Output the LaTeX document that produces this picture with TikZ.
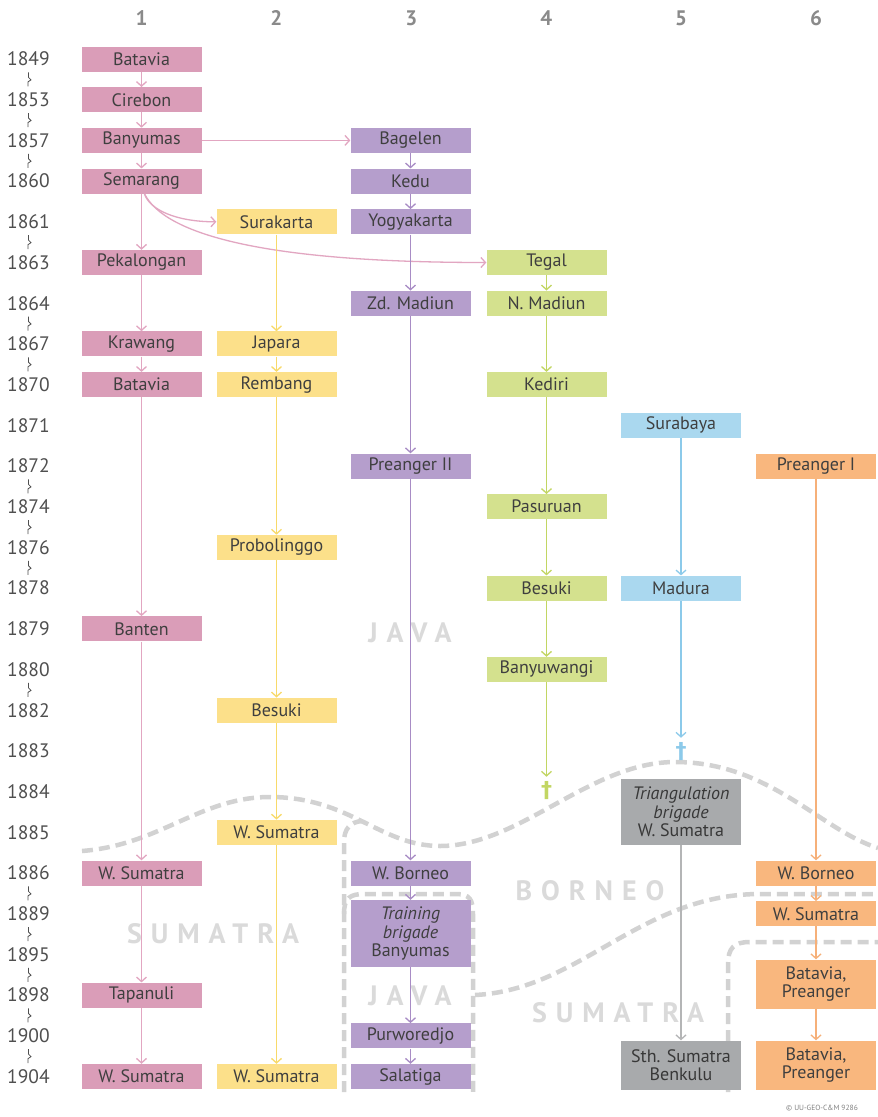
\documentclass[tikz,border=0pt]{standalone}
\usepackage{fontspec}
\setmainfont{PT Sans}
\newfontfamily\crossfont{DejaVu Sans}
\usetikzlibrary{arrows.meta}
\definecolor{pinkbox}{HTML}{DA9DB8}
\definecolor{pinkline}{HTML}{E2A6C1}
\definecolor{yelbox}{HTML}{FCE08A}
\definecolor{yelline}{HTML}{F8DA6A}
\definecolor{purbox}{HTML}{B59ECC}
\definecolor{purline}{HTML}{A88CC5}
\definecolor{grnbox}{HTML}{D4E18E}
\definecolor{grnline}{HTML}{C2D663}
\definecolor{blubox}{HTML}{AAD8EF}
\definecolor{bluline}{HTML}{8CCAEA}
\definecolor{orabox}{HTML}{F9B77E}
\definecolor{oraline}{HTML}{F6B079}
\definecolor{grybox}{HTML}{A8AAAC}
\definecolor{gryline}{HTML}{B4B5B6}
\definecolor{txtc}{HTML}{3F3F3F}
\definecolor{yearc}{HTML}{4F4F4F}
\definecolor{headc}{HTML}{8A8A8A}
\definecolor{dashc}{HTML}{D2D2D2}
\definecolor{regc}{HTML}{DADADA}
\tikzset{
  box/.style={minimum width=120pt, minimum height=25pt, inner sep=0pt, text=txtc,
    font=\fontsize{18}{19.5}\selectfont, align=center},
  tall/.style={box, minimum height=49pt},
  yearlbl/.style={text=yearc, font=\fontsize{19.5}{21}\selectfont, inner sep=0pt},
  headlbl/.style={text=headc, font=\fontsize{21}{24}\selectfont\bfseries, inner sep=0pt},
  arr/.style={-{Straight Barb[length=4.5pt,width=10pt,line width=1.3pt]}, line width=1.3pt},
  border/.style={draw=dashc, line width=4.5pt, dash pattern=on 11pt off 6pt},
  region/.style={text=regc, font=\fontsize{28}{30}\selectfont\bfseries\addfontfeature{LetterSpace=32}, inner sep=0pt},
  sq/.style={draw=yearc, line width=0.8pt},
  crossm/.style={font=\crossfont\bfseries\fontsize{22}{23}\selectfont, inner sep=0pt}
}
\begin{document}
\begin{tikzpicture}[x=1pt,y=-1pt]
\useasboundingbox (0,0) rectangle (878,1117);
\fill[white] (0,0) rectangle (878,1117);

% column headers
\foreach \c [count=\i from 0] in {1,2,3,4,5,6}
  \node[headlbl] (h\c) at ({141.5+134.9*\i},18) {\c};

% years
\foreach \yr [count=\i from 0] in {1849,1853,1857,1860,1861,1863,1864,1867,1870,1871,1872,1874,1876,1878,1879,1880,1882,1883,1884,1885,1886,1889,1895,1898,1900,1904}
  \node[yearlbl] (y\yr) at (28.5,{59+40.7*\i}) {\yr};

% squiggles between non-consecutive years
\foreach \k in {0,1,2,4,6,7,10,11,12,15,20,21,22,23,24}{
  \pgfmathsetmacro{\m}{59+40.7*(\k+0.5)}
  \draw[sq] (28.5,{\m-7}) -- (28.5,{\m-2}) -- (31,{\m+0.5}) -- (28,{\m+2.5}) -- (28,{\m+7});
}

% region labels
\node[region] (rjava1) at (410,633) {JAVA};
\node[region] (rborneo) at (590,891) {BORNEO};
\node[region] (rsum1) at (213,934) {SUMATRA};
\node[region] (rjava2) at (410,996) {JAVA};
\node[region] (rsum2) at (618,1013) {SUMATRA};

% dashed borders
\draw[border] (82,851) .. controls (160,845) and (200,797) .. (270,797)
  .. controls (350,797) and (380,846) .. (440,846)
  .. controls (520,846) and (590,762) .. (675,762)
  .. controls (770,762) and (820,830) .. (878,848);
\draw[border] (344,1092) -- (344,842) .. controls (344,829) and (350,822) .. (362,821);
\draw[border] (344,914) .. controls (344,898) and (350,894) .. (364,894) -- (456,894)
  .. controls (470,894) and (473,900) .. (473,914) -- (473,1092);
\draw[border] (475,995) .. controls (580,990) and (640,894) .. (760,894) -- (878,894);
\draw[border] (728,1092) -- (728,964) .. controls (728,948) and (734,942) .. (750,942) -- (878,942);

% ---- boxes ----
% column 1
\begin{scope}[every node/.style={box, fill=pinkbox}]
\node (a1) at (141.5,59) {Batavia};
\node (a2) at (141.5,99.7) {Cirebon};
\node (a3) at (141.5,140.4) {Banyumas};
\node (a4) at (141.5,181.1) {Semarang};
\node (a5) at (141.5,262.5) {Pekalongan};
\node (a6) at (141.5,343.9) {Krawang};
\node (a7) at (141.5,384.6) {Batavia};
\node (a8) at (141.5,628.8) {Banten};
\node (a9) at (141.5,873) {W. Sumatra};
\node (a10) at (141.5,995.1) {Tapanuli};
\node (a11) at (141.5,1076.5) {W. Sumatra};
\end{scope}
% column 2
\begin{scope}[every node/.style={box, fill=yelbox}]
\node (b1) at (276.5,221.8) {Surakarta};
\node (b2) at (276.5,343.9) {Japara};
\node (b3) at (276.5,384.6) {Rembang};
\node (b4) at (276.5,547.4) {Probolinggo};
\node (b5) at (276.5,710.2) {Besuki};
\node (b6) at (276.5,832.3) {W. Sumatra};
\node (b7) at (276.5,1076.5) {W. Sumatra};
\end{scope}
% column 3
\begin{scope}[every node/.style={box, fill=purbox}]
\node (c1) at (410.5,140.4) {Bagelen};
\node (c2) at (410.5,181.1) {Kedu};
\node (c3) at (410.5,221.8) {Yogyakarta};
\node (c4) at (410.5,303.2) {Zd. Madiun};
\node (c5) at (410.5,466) {Preanger II};
\node (c6) at (410.5,873) {W. Borneo};
\node[minimum height=67pt] (c7) at (410.5,933.5) {\itshape Training\\[-1pt]\itshape brigade\\[-1pt]Banyumas};
\node (c8) at (410.5,1035.8) {Purworedjo};
\node (c9) at (410.5,1076.5) {Salatiga};
\end{scope}
% column 4
\begin{scope}[every node/.style={box, fill=grnbox}]
\node (d1) at (546.5,262.5) {Tegal};
\node (d2) at (546.5,303.2) {N. Madiun};
\node (d3) at (546.5,384.6) {Kediri};
\node (d4) at (546.5,506.7) {Pasuruan};
\node (d5) at (546.5,588.1) {Besuki};
\node (d6) at (546.5,669.5) {Banyuwangi};
\end{scope}
\node[crossm, text=grnline] (dx) at (546.5,791) {†};
% column 5
\begin{scope}[every node/.style={box, fill=blubox}]
\node (e1) at (681,425.3) {Surabaya};
\node (e2) at (681,588.1) {Madura};
\end{scope}
\node[crossm, text=bluline] (ex) at (681,752) {†};
\node[box, fill=grybox, text=black!78, minimum height=66pt] (e3) at (681,812) {\itshape Triangulation\\[-1pt]\itshape brigade\\[-1pt]W. Sumatra};
\node[tall, fill=grybox, text=black!78] (e4) at (681,1065) {Sth. Sumatra\\[-1pt]Benkulu};
% column 6
\begin{scope}[every node/.style={box, fill=orabox}]
\node (f1) at (816,466) {Preanger I};
\node (f2) at (816,873) {W. Borneo};
\node (f3) at (816,913.7) {W. Sumatra};
\node[tall] (f4) at (816,984) {Batavia,\\[-1pt]Preanger};
\node[tall] (f5) at (816,1065) {Batavia,\\[-1pt]Preanger};
\end{scope}

% ---- connectors ----
\begin{scope}[arr, draw=pinkline]
\draw (a1) -- (a2); \draw (a2) -- (a3); \draw (a3) -- (a4); \draw (a4) -- (a5);
\draw (a5) -- (a6); \draw (a6) -- (a7); \draw (a7) -- (a8); \draw (a8) -- (a9);
\draw (a9) -- (a10); \draw (a10) -- (a11);
\draw (a3) -- (c1);
\draw ([xshift=3pt]a4.south) .. controls +(5,16) and +(-40,0) .. (b1.west);
\draw ([xshift=3pt]a4.south) .. controls +(20,40) and +(-225,0) .. (d1.west);
\end{scope}
\begin{scope}[arr, draw=yelline]
\draw (b1) -- (b2); \draw (b2) -- (b3); \draw (b3) -- (b4); \draw (b4) -- (b5);
\draw (b5) -- (b6); \draw (b6) -- (b7);
\end{scope}
\begin{scope}[arr, draw=purline]
\draw (c1) -- (c2); \draw (c2) -- (c3); \draw (c3) -- (c4); \draw (c4) -- (c5);
\draw (c5) -- (c6); \draw (c6) -- (c7); \draw (c7) -- (c8); \draw (c8) -- (c9);
\end{scope}
\begin{scope}[arr, draw=grnline]
\draw (d1) -- (d2); \draw (d2) -- (d3); \draw (d3) -- (d4); \draw (d4) -- (d5);
\draw (d5) -- (d6); \draw (d6) -- ([yshift=5pt]dx.north);
\end{scope}
\begin{scope}[arr, draw=bluline]
\draw (e1) -- (e2); \draw (e2) -- ([yshift=5pt]ex.north);
\end{scope}
\draw[arr, draw=gryline] (e3) -- (e4);
\begin{scope}[arr, draw=oraline]
\draw (f1) -- (f2); \draw (f2) -- (f3); \draw (f3) -- (f4); \draw (f4) -- (f5);
\end{scope}

\node[text=black!50, font=\fontsize{7.5}{8}\selectfont, anchor=west, inner sep=0pt] (copy) at (786,1108) {© UU-GEO-C\&M 9286};
\end{tikzpicture}
\end{document}
